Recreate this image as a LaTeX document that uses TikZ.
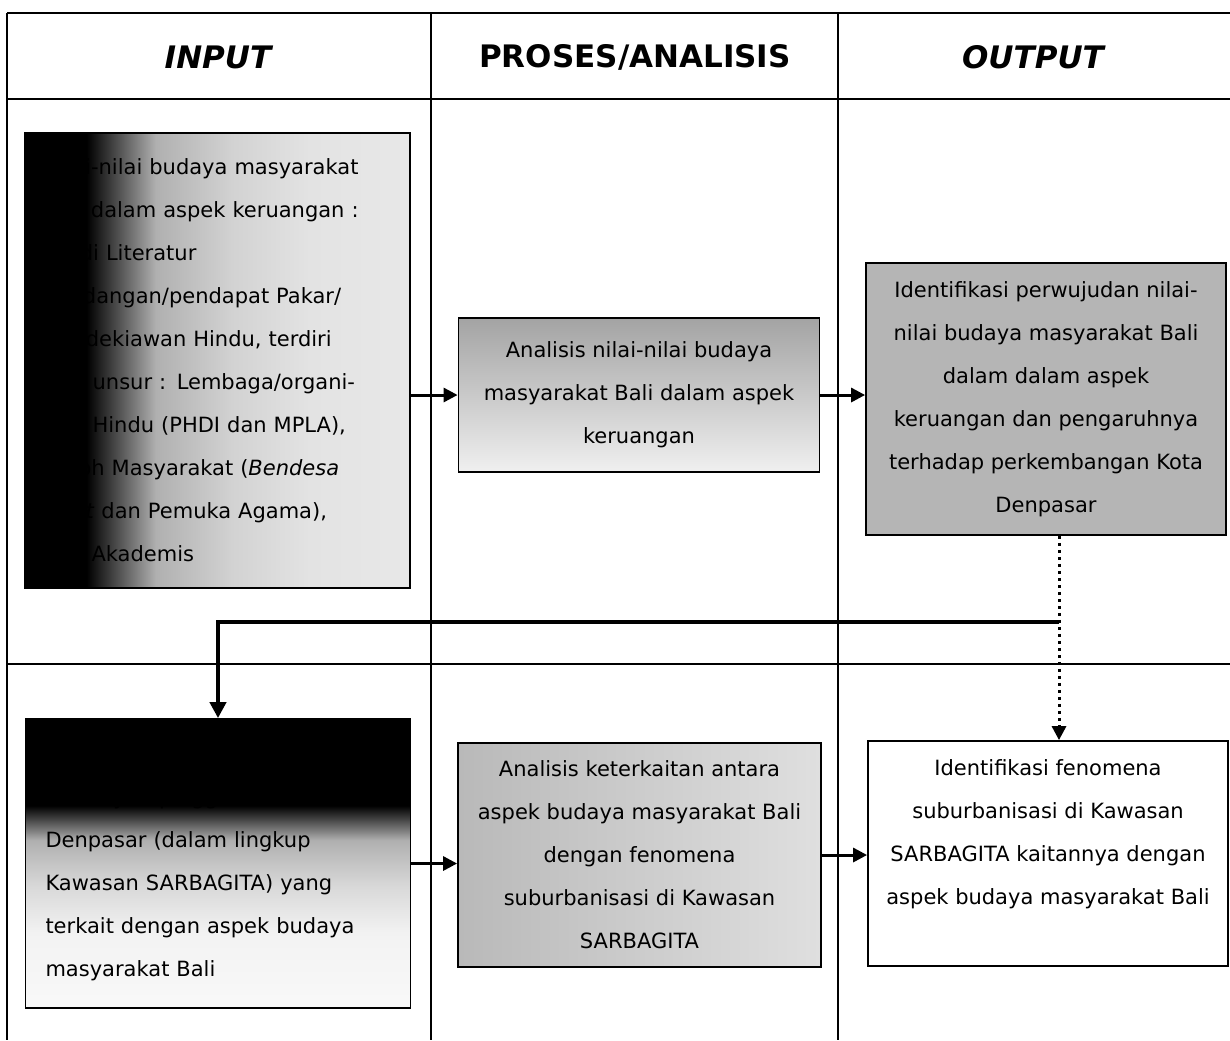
\documentclass[tikz,border=0pt]{standalone}
\usepackage{fontspec}
\setmainfont{DejaVu Sans}
\usetikzlibrary{arrows.meta}

\pgfdeclarehorizontalshading{inputShade}{100bp}{color(0bp)=(black); color(33bp)=(black); color(42bp)=(gray!62); color(52bp)=(gray!35); color(62bp)=(gray!22); color(75bp)=(gray!18); color(100bp)=(gray!18)}
\pgfdeclareverticalshading{inputShadeB}{100bp}{color(0bp)=(gray!5); color(25bp)=(gray!5); color(38bp)=(gray!10); color(46bp)=(gray!30); color(54bp)=(gray!62); color(60bp)=(black); color(100bp)=(black)}

\begin{document}
\begin{tikzpicture}[x=0.5pt,y=-0.5pt,
	boxText/.style={font={\fontsize{10.5}{21.5}\selectfont}, draw=black, line width=0.9pt, inner sep=0pt},
	head/.style={font={\fontsize{15.5}{18}\selectfont\bfseries}},
	flow/.style={-{Triangle[length=7pt,width=7pt]}, line width=1.5pt},
	frame/.style={line width=1pt}]

		\useasboundingbox (0,0) rectangle (1230,1040);

		% draw table lines
		\draw[frame] (7,13) -- (1230,13);
		\draw[frame] (7,99) -- (1230,99);
		\draw[frame] (7,664) -- (1230,664);
		\draw[frame] (7,13) -- (7,1040);
		\draw[frame] (431,13) -- (431,1040);
		\draw[frame] (838,13) -- (838,1040);

		% column heads
		\node[head](hIn) at (219,57){\textit{INPUT}};
		\node[head](hProc) at (635,57){PROSES/ANALISIS};
		\node[head](hOut) at (1034,57){\textit{OUTPUT}};

		% first row boxes
		\node[boxText, shading=inputShade, minimum width=192.5pt, minimum height=227.5pt, text width=172.5pt, align=left](inTop) at (217.5,360.5){Nilai-nilai budaya masyarakat\\ Bali dalam aspek keruangan :\\ Studi Literatur\\ Pandangan/pendapat Pakar/\\ Cendekiawan Hindu, terdiri\\ dari unsur : Lembaga/organi-\\ sasi Hindu (PHDI dan MPLA),\\ Tokoh Masyarakat (\textit{Bendesa}\\ \textit{Adat} dan Pemuka Agama),\\ dan Akademis};
		\node[boxText, top color=gray!72, middle color=gray!42, bottom color=gray!12, minimum width=180.5pt, minimum height=77pt, align=center](procTop) at (639,395){Analisis nilai-nilai budaya\\ masyarakat Bali dalam aspek\\ keruangan};
		\node[boxText, fill=gray!58, minimum width=180pt, minimum height=136pt, align=center](outTop) at (1046,399){Identifikasi perwujudan nilai-\\ nilai budaya masyarakat Bali\\ dalam dalam aspek\\ keruangan dan pengaruhnya\\ terhadap perkembangan Kota\\ Denpasar};

		% second row boxes
		\node[boxText, shading=inputShadeB, minimum width=192.5pt, minimum height=144.5pt, text width=172.5pt, align=left](inBot) at (218,863.5){Fenomena suburbanisasi\\ di wilayah pinggiran Kota\\ Denpasar (dalam lingkup\\ Kawasan SARBAGITA) yang\\ terkait dengan aspek budaya\\ masyarakat Bali};
		\node[boxText, left color=gray!55, right color=gray!25, minimum width=181.5pt, minimum height=112pt, align=center](procBot) at (639.5,855){Analisis keterkaitan antara\\ aspek budaya masyarakat Bali\\ dengan fenomena\\ suburbanisasi di Kawasan\\ SARBAGITA};
		\node[boxText, fill=white, minimum width=180pt, minimum height=112.5pt, align=center](outBot) at (1048,853.5){Identifikasi fenomena\\ suburbanisasi di Kawasan\\ SARBAGITA kaitannya dengan\\ aspek budaya masyarakat Bali\\ \mbox{}};

		\coordinate (split) at (1059,622);

		% draw flow edges
		\draw[flow] (inTop.east |- procTop.west) -- (procTop.west);
		\draw[flow] (procTop.east) -- (procTop.east -| outTop.west);
		\draw[flow] (inBot.east) -- (inBot.east -| procBot.west);
		\draw[flow] (procBot.east) -- (procBot.east -| outBot.west);

		% draw feedback edges
		\draw[flow, dotted] (split |- outTop.south) -- (split |- outBot.north);
		\draw[-{Triangle[length=8pt,width=8pt]}, line width=2pt] (split) -| (inBot.north);

	\end{tikzpicture}
\end{document}
